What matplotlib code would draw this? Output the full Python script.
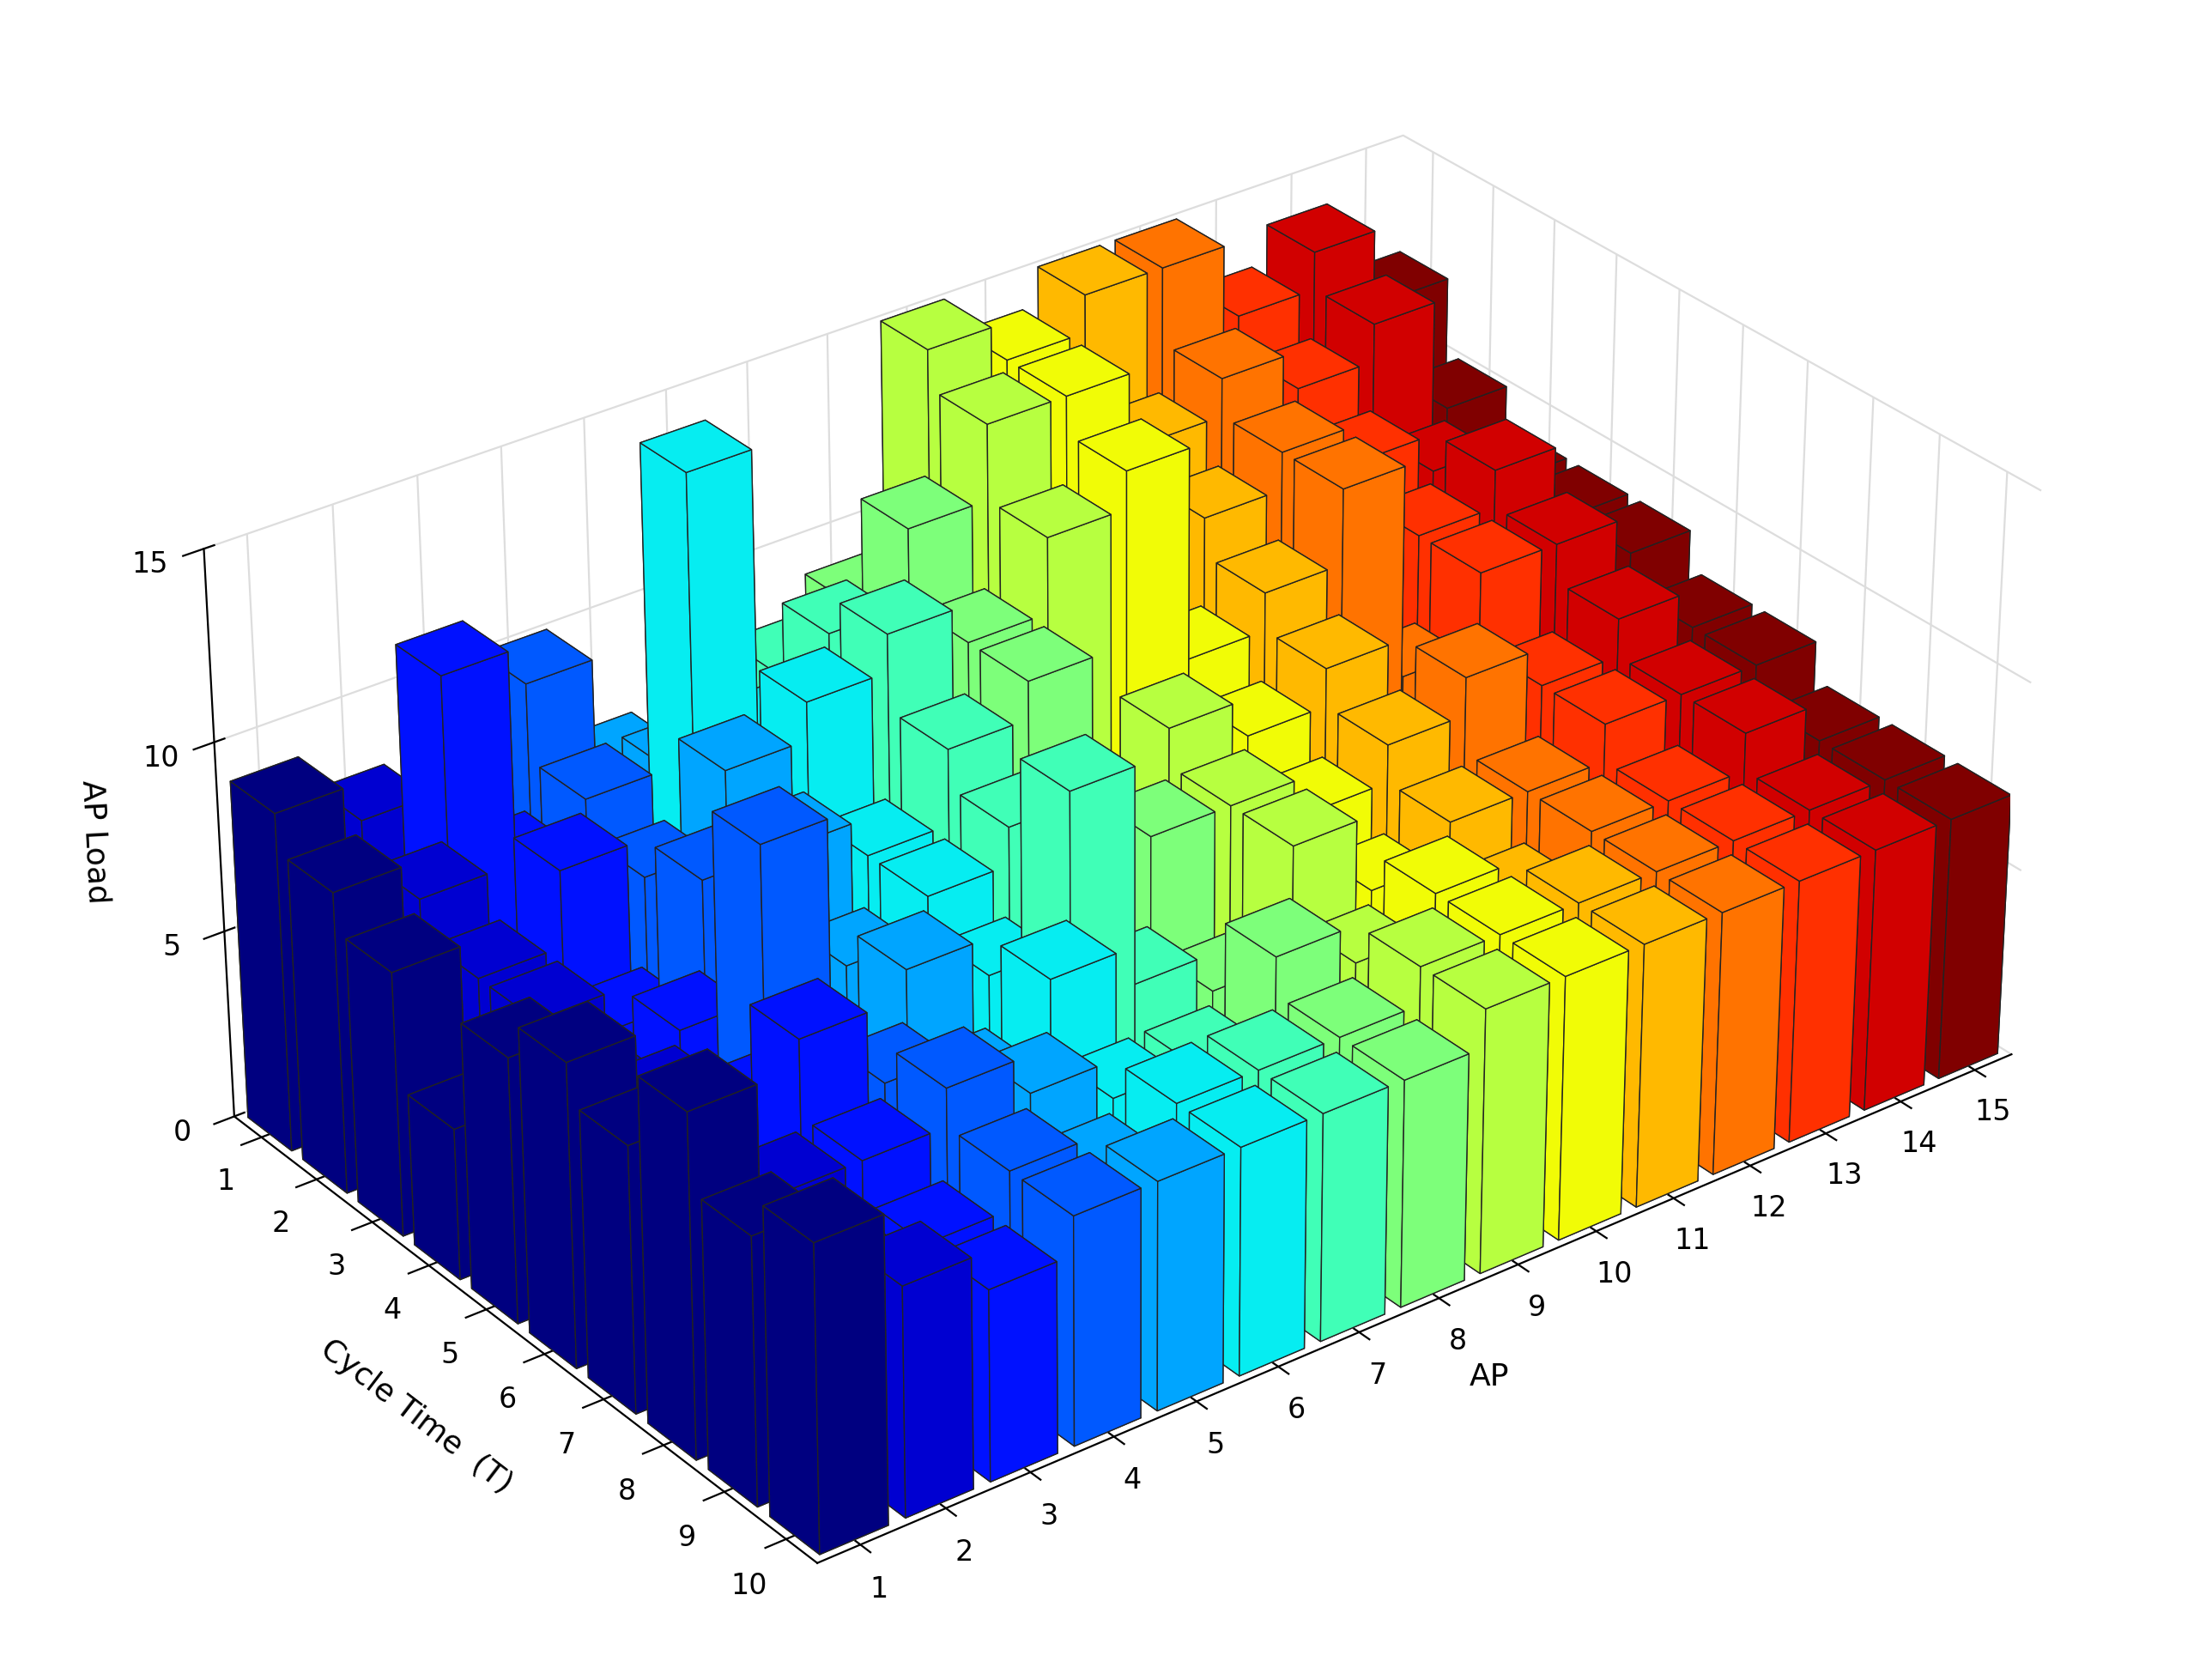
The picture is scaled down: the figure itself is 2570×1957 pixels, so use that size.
import numpy as np
import matplotlib
matplotlib.use("Agg")
import matplotlib.pyplot as plt
from matplotlib.colors import to_rgba

# rows: cycle time T=1..10, columns: AP 1..15
ap = list(range(1, 16))
cycle = list(range(1, 11))
load_t1 = [9, 8, 11, 10, 7, 14, 8, 9, 15, 14, 15, 15, 13, 14, 12]
load_t2 = [8, 7, 7, 8, 8, 8, 10, 12, 14, 14, 12, 13, 12, 13, 10]
load_t3 = [7, 6, 8, 7, 9, 10, 11, 10, 12, 13, 11, 12, 11, 10, 9]
load_t4 = [4, 6, 5, 8, 8, 7, 9, 10, 7, 9, 10, 12, 10, 11, 9]
load_t5 = [7, 5, 6, 10, 6, 7, 8, 7, 9, 8, 9, 8, 10, 10, 9]
load_t6 = [8, 6, 5, 5, 7, 6, 10, 8, 8, 7, 8, 9, 8, 9, 8]
load_t7 = [7, 5, 8, 6, 5, 7, 6, 5, 8, 6, 7, 7, 8, 8, 8]
load_t8 = [9, 6, 6, 7, 6, 5, 5, 7, 6, 7, 6, 7, 7, 8, 7]
load_t9 = [7, 5, 5, 6, 5, 6, 6, 6, 7, 7, 7, 7, 7, 7, 7]
load_t10 = [8, 6, 5, 6, 6, 6, 6, 6, 7, 7, 7, 7, 7, 7, 7]
loads = np.array([load_t1, load_t2, load_t3, load_t4, load_t5,
                  load_t6, load_t7, load_t8, load_t9, load_t10], dtype=float)


def _scale(c, f):
    r, g, b, a = to_rgba(c)
    return (r * f, g * f, b * f, a)


fig = plt.figure(figsize=(12.85, 9.785), dpi=200)
ax = fig.add_axes([-0.06, -0.035, 1.12, 1.08], projection="3d")
cmap = plt.get_cmap("jet")
w = 0.8
for i, t in enumerate(cycle):
    for j, a in enumerate(ap):
        base = cmap(j / (len(ap) - 1))
        # faces: -z, +z, -y, +y, -x, +x
        faces = [_scale(base, 0.8), base, _scale(base, 0.9), base,
                 base, _scale(base, 0.88)]
        ax.bar3d(a - w / 2, t - w / 2, 0, w, w, loads[i, j],
                 color=faces, edgecolor="#222222", linewidth=0.5, shade=False)

ax.set_xlim(0.5, 15.5)
ax.set_ylim(10.5, 0.5)
ax.set_zlim(0, 15)
ax.set_xticks(ap)
ax.set_yticks(cycle)
ax.set_zticks([0, 5, 10, 15])
ax.set_xlabel("AP", fontsize=13, labelpad=10)
ax.set_ylabel("Cycle Time  (T)", fontsize=13, labelpad=10)
ax.set_zlabel("AP Load", fontsize=13, labelpad=6)
ax.tick_params(labelsize=12)
ax.view_init(elev=30, azim=-127.5)
ax.set_box_aspect((1.5, 1.0, 0.65), zoom=1.03)
for axis in (ax.xaxis, ax.yaxis, ax.zaxis):
    axis.set_pane_color((1, 1, 1, 0))
    axis._axinfo["grid"]["color"] = "#dddddd"
    axis._axinfo["grid"]["linewidth"] = 0.8

fig.savefig("out.png", dpi=200)
